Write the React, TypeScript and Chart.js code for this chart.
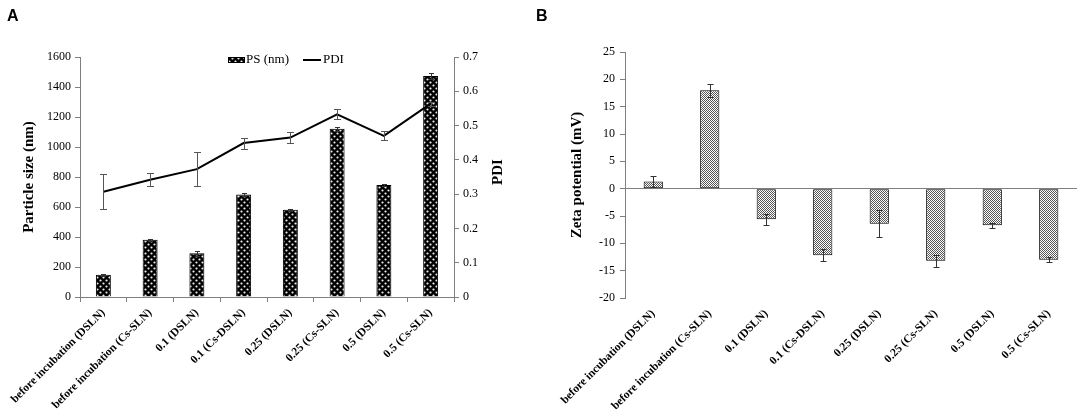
import { useEffect, useRef } from "react";
import { Chart, registerables } from "chart.js";

Chart.register(...registerables);

// categories shared by both panels
const categories = [
  "before incubation (DSLN)",
  "before incubation (Cs-SLN)",
  "0.1 (DSLN)",
  "0.1 (Cs-DSLN)",
  "0.25 (DSLN)",
  "0.25 (Cs-SLN)",
  "0.5 (DSLN)",
  "0.5 (Cs-SLN)",
];

// panel A
const particleSize = [148, 381, 292, 683, 581, 1121, 747, 1474];
const particleSizeErr = [5, 5, 18, 8, 8, 15, 8, 18];
const pdi = [0.307, 0.342, 0.373, 0.449, 0.465, 0.533, 0.47, 0.564];
const pdiErr = [0.051, 0.019, 0.05, 0.016, 0.016, 0.014, 0.013, 0.006];
const psTicks = [0, 200, 400, 600, 800, 1000, 1200, 1400, 1600];
const pdiTicks = [0, 0.1, 0.2, 0.3, 0.4, 0.5, 0.6, 0.7];

// panel B
const zeta = [1.3, 18.0, -5.6, -12.2, -6.4, -13.2, -6.7, -13.0];
const zetaErr = [1.0, 1.2, 1.0, 1.1, 2.5, 1.1, 0.5, 0.5];
const zetaTicks = [25, 20, 15, 10, 5, 0, -5, -10, -15, -20];

const axisColor = "#7f7f7f";
const serif = "'Liberation Serif', 'Times New Roman', serif";

Chart.defaults.font.family = serif;
Chart.defaults.color = "#000";

function makePattern(kind: "dark" | "light") {
  const c = document.createElement("canvas");
  const size = kind === "dark" ? 6 : 2;
  c.width = size;
  c.height = size;
  const g = c.getContext("2d")!;
  if (kind === "dark") {
    g.fillStyle = "#000";
    g.fillRect(0, 0, 6, 6);
    g.fillStyle = "#f0f0f0";
    g.beginPath();
    g.arc(1.5, 1.5, 1.1, 0, Math.PI * 2);
    g.arc(4.5, 4.5, 1.1, 0, Math.PI * 2);
    g.fill();
  } else {
    g.fillStyle = "#fff";
    g.fillRect(0, 0, 2, 2);
    g.fillStyle = "#555";
    g.fillRect(0, 0, 1, 1);
    g.fillRect(1, 1, 1, 1);
  }
  return g.createPattern(c, "repeat")!;
}

const errorBars = {
  id: "errorBars",
  afterDatasetsDraw(chart: any) {
    const ctx = chart.ctx;
    chart.data.datasets.forEach((ds: any, i: number) => {
      if (!ds.errors) return;
      const meta = chart.getDatasetMeta(i);
      const scale = chart.scales[meta.yAxisID];
      ctx.save();
      ctx.strokeStyle = ds.errorColor;
      ctx.lineWidth = 1;
      meta.data.forEach((el: any, j: number) => {
        const v = ds.data[j];
        const e = ds.errors[j];
        const x = Math.round(el.x) + 0.5;
        const yt = Math.round(scale.getPixelForValue(v + e)) + 0.5;
        const yb = Math.round(scale.getPixelForValue(v - e)) + 0.5;
        const c = ds.errorCap;
        ctx.beginPath();
        ctx.moveTo(x, yt);
        ctx.lineTo(x, yb);
        ctx.moveTo(x - c, yt);
        ctx.lineTo(x + c, yt);
        ctx.moveTo(x - c, yb);
        ctx.lineTo(x + c, yb);
        ctx.stroke();
      });
      ctx.restore();
    });
  },
};

// legend and the right-hand "PDI" title for panel A
const panelAExtras = {
  id: "panelAExtras",
  afterDraw(chart: any) {
    const ctx = chart.ctx;
    const [lineDs, barDs] = chart.data.datasets;
    ctx.save();
    ctx.font = `13px ${serif}`;
    ctx.textBaseline = "middle";
    const y = 60;
    let x = 228;
    ctx.fillStyle = barDs.backgroundColor;
    ctx.fillRect(x, y - 3, 17, 6);
    ctx.strokeStyle = "#000";
    ctx.lineWidth = 1;
    ctx.strokeRect(x + 0.5, y - 2.5, 16, 5);
    x += 18;
    ctx.fillStyle = "#000";
    ctx.fillText(barDs.label, x, y);
    x += ctx.measureText(barDs.label).width + 14;
    ctx.lineWidth = 2;
    ctx.beginPath();
    ctx.moveTo(x, y);
    ctx.lineTo(x + 18, y);
    ctx.stroke();
    x += 20;
    ctx.fillText(lineDs.label, x, y);

    const y1 = chart.scales.y1;
    ctx.translate(y1.left + 44, (chart.chartArea.top + chart.chartArea.bottom) / 2 - 5);
    ctx.rotate(-Math.PI / 2);
    ctx.font = `bold 15px ${serif}`;
    ctx.textAlign = "center";
    ctx.fillText("PDI", 0, 0);
    ctx.restore();
  },
};

const tickFont = { size: 12 };
const titleFont = { size: 15, weight: "bold" as const };
const catFont = { size: 11.5, weight: "bold" as const };

export default function App() {
  const refA = useRef<HTMLCanvasElement>(null);
  const refB = useRef<HTMLCanvasElement>(null);

  useEffect(() => {
    if (!refA.current || !refB.current) return;

    const chartA = new Chart(refA.current, {
      type: "bar",
      data: {
        labels: categories,
        datasets: [
          {
            type: "line",
            label: "PDI",
            data: pdi,
            yAxisID: "y1",
            borderColor: "#000",
            borderWidth: 2,
            pointRadius: 0,
            tension: 0,
            errors: pdiErr,
            errorColor: "#555",
            errorCap: 3.5,
          } as any,
          {
            type: "bar",
            label: "PS (nm)",
            data: particleSize,
            yAxisID: "y",
            backgroundColor: makePattern("dark"),
            borderColor: "#000",
            borderWidth: 1,
            categoryPercentage: 1,
            barPercentage: 0.32,
            errors: particleSizeErr,
            errorColor: "#333",
            errorCap: 2.5,
          } as any,
        ],
      },
      options: {
        animation: false,
        responsive: true,
        maintainAspectRatio: false,
        layout: { padding: { left: 20, top: 57, right: 0, bottom: 0 } },
        plugins: { legend: { display: false }, tooltip: { enabled: false } },
        scales: {
          x: {
            grid: { offset: true, drawOnChartArea: false, color: axisColor, tickLength: 5 },
            border: { color: axisColor },
            ticks: {
              autoSkip: false,
              minRotation: 45,
              maxRotation: 45,
              padding: 4,
              font: catFont,
            },
            afterFit: (s: any) => {
              s.height = 118;
            },
          },
          y: {
            position: "left",
            min: 0,
            max: 1600,
            afterBuildTicks: (s: any) => {
              s.ticks = psTicks.map((v) => ({ value: v }));
            },
            grid: { drawOnChartArea: false, color: axisColor, tickLength: 5 },
            border: { color: axisColor },
            ticks: { padding: 4, font: tickFont, callback: (v: any) => String(v) },
            title: { display: true, text: "Particle size (nm)", font: titleFont, padding: 0 },
            afterFit: (s: any) => {
              s.width = 60;
            },
          },
          y1: {
            position: "right",
            min: 0,
            max: 0.7,
            afterBuildTicks: (s: any) => {
              s.ticks = pdiTicks.map((v) => ({ value: v }));
            },
            grid: { drawOnChartArea: false, color: axisColor, tickLength: 5 },
            border: { color: axisColor },
            ticks: { padding: 4, font: tickFont, callback: (v: any) => String(v) },
            afterFit: (s: any) => {
              s.width = 86;
            },
          },
        },
      },
      plugins: [errorBars, panelAExtras],
    });

    const chartB = new Chart(refB.current, {
      type: "bar",
      data: {
        labels: categories,
        datasets: [
          {
            label: "Zeta potential (mV)",
            data: zeta,
            backgroundColor: makePattern("light"),
            borderColor: "#000",
            borderWidth: 1,
            borderSkipped: false,
            categoryPercentage: 1,
            barPercentage: 0.34,
            errors: zetaErr,
            errorColor: "#333",
            errorCap: 3,
          } as any,
        ],
      },
      options: {
        animation: false,
        responsive: true,
        maintainAspectRatio: false,
        layout: { padding: { left: 28, top: 52, right: 7, bottom: 0 } },
        plugins: { legend: { display: false }, tooltip: { enabled: false } },
        scales: {
          x: {
            grid: { display: false, drawTicks: false },
            border: { display: false },
            ticks: {
              autoSkip: false,
              minRotation: 45,
              maxRotation: 45,
              padding: 9,
              font: catFont,
            },
            afterFit: (s: any) => {
              s.height = 117;
            },
          },
          y: {
            min: -20,
            max: 25,
            afterBuildTicks: (s: any) => {
              s.ticks = zetaTicks.map((v) => ({ value: v }));
            },
            grid: {
              color: (c: any) => (c.tick && c.tick.value === 0 ? axisColor : "rgba(0,0,0,0)"),
              tickColor: axisColor,
              tickLength: 5,
            },
            border: { color: axisColor },
            ticks: { padding: 5, font: tickFont, callback: (v: any) => String(v) },
            title: { display: true, text: "Zeta potential (mV)", font: titleFont, padding: 0 },
            afterFit: (s: any) => {
              s.width = 57;
            },
          },
        },
      },
      plugins: [errorBars],
    });

    return () => {
      chartA.destroy();
      chartB.destroy();
    };
  }, []);

  const letter = {
    position: "absolute" as const,
    top: 8,
    font: "bold 16px 'Liberation Sans', Arial, sans-serif",
    lineHeight: "16px",
  };

  return (
    <div style={{ position: "absolute", left: 0, top: 0, width: 1084, height: 415, background: "#fff" }}>
      <div style={{ position: "absolute", left: 0, top: 0, width: 540, height: 415 }}>
        <canvas ref={refA}></canvas>
      </div>
      <div style={{ position: "absolute", left: 540, top: 0, width: 544, height: 415 }}>
        <canvas ref={refB}></canvas>
      </div>
      <div style={{ ...letter, left: 7 }}>A</div>
      <div style={{ ...letter, left: 536 }}>B</div>
    </div>
  );
}
